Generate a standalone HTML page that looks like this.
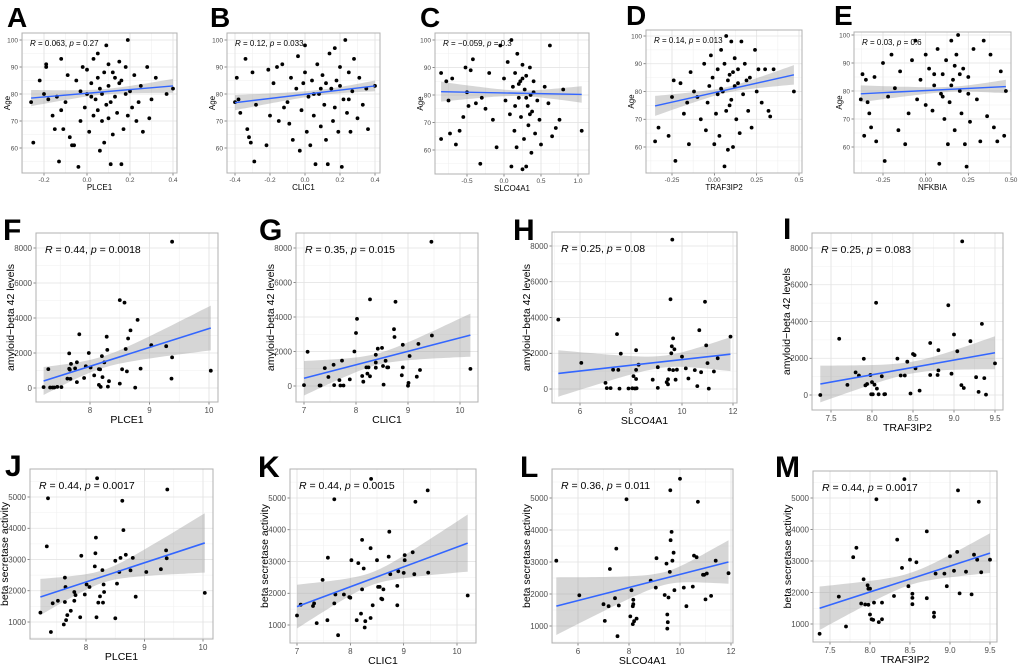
<!DOCTYPE html>
<html><head><meta charset="utf-8">
<style>
html,body{margin:0;padding:0;background:#fff;}
svg{display:block;font-family:"Liberation Sans",Arial,sans-serif;}
</style></head>
<body>
<svg id="fig" width="1020" height="665" viewBox="0 0 1020 665" xmlns="http://www.w3.org/2000/svg"></svg>
<script>
// ---------- DATA ----------
const aX=[-0.26,-0.25,-0.22,-0.2,-0.19,-0.19,-0.18,-0.16,-0.15,-0.14,-0.13,-0.12,-0.12,-0.11,-0.1,-0.09,-0.08,-0.07,-0.06,-0.05,-0.04,-0.03,-0.02,-0.01,0.0,0.0,0.01,0.02,0.03,0.03,0.04,0.05,0.05,0.06,0.06,0.07,0.08,0.08,0.09,0.09,0.1,0.1,0.11,0.12,0.12,0.13,0.14,0.15,0.15,0.16,0.17,0.18,0.19,0.19,0.2,0.21,0.22,0.23,0.25,0.26,0.28,0.29,0.3,0.32,0.37,0.4,0.07,0.11,0.02,0.16,-0.03,0.24,0.13,0.05,0.18,0.1];
const aY=[77,62,85,80,91,90,78,72,67,79,55,74,93,67,77,87,64,61,61,85,53,70,90,75,80,89,66,84,72,93,78,95,86,59,82,70,88,62,98,76,91,83,54,65,88,79,73,92,84,54,67,90,100,72,81,75,87,70,83,66,90,71,78,86,80,82,80,77,79,85,81,77,86,74,80,71];
const bX=[-0.4,-0.39,-0.38,-0.37,-0.34,-0.33,-0.32,-0.31,-0.3,-0.29,-0.28,-0.22,-0.21,-0.2,-0.18,-0.16,-0.15,-0.13,-0.12,-0.1,-0.09,-0.08,-0.07,-0.05,-0.04,-0.03,-0.02,0.0,0.0,0.01,0.02,0.03,0.04,0.05,0.06,0.07,0.08,0.09,0.1,0.11,0.12,0.13,0.14,0.15,0.16,0.17,0.18,0.19,0.2,0.21,0.22,0.23,0.24,0.25,0.26,0.27,0.28,0.3,0.31,0.33,0.35,0.36,0.4,0.12,0.2,0.05,0.17,0.25,-0.01,0.09];
const bY=[77,86,78,73,93,67,64,62,88,55,76,61,89,72,84,90,70,91,75,77,69,86,63,82,94,59,74,98,88,66,79,61,85,72,54,91,80,68,87,76,63,54,95,82,70,97,85,66,90,53,78,100,73,88,66,81,93,71,86,76,82,67,83,84,83,80,75,78,84,82];
const cX=[-0.85,-0.85,-0.78,-0.75,-0.73,-0.7,-0.65,-0.6,-0.55,-0.52,-0.5,-0.48,-0.45,-0.42,-0.38,-0.32,-0.3,-0.25,-0.2,-0.15,-0.1,-0.05,0.0,0.02,0.05,0.08,0.1,0.1,0.12,0.14,0.15,0.17,0.18,0.2,0.22,0.23,0.25,0.25,0.27,0.28,0.3,0.3,0.32,0.33,0.35,0.36,0.37,0.38,0.4,0.42,0.45,0.48,0.5,0.55,0.6,0.62,0.65,0.7,0.75,0.8,1.05,0.2,0.3,0.15,0.4,0.25,0.35];
const cY=[88,64,85,78,66,86,62,67,72,90,81,76,89,93,77,55,79,75,88,71,61,98,86,78,92,73,100,54,83,67,88,61,95,79,85,72,91,53,64,82,87,54,76,69,90,80,59,74,85,66,78,71,62,83,77,98,65,68,71,82,67,84,79,76,81,86,73];
const dX=[-0.35,-0.33,-0.27,-0.25,-0.24,-0.23,-0.2,-0.18,-0.16,-0.15,-0.14,-0.12,-0.1,-0.08,-0.06,-0.05,-0.04,-0.02,-0.01,0.0,0.01,0.02,0.03,0.04,0.05,0.06,0.06,0.07,0.07,0.08,0.09,0.1,0.1,0.11,0.12,0.12,0.13,0.14,0.15,0.16,0.17,0.18,0.2,0.21,0.22,0.24,0.25,0.26,0.28,0.3,0.32,0.33,0.35,0.47,0.08,0.04,0.14,0.02,0.11,-0.03,0.19,0.09];
const dY=[62,67,64,78,84,55,83,72,76,61,87,80,78,70,90,66,76,93,85,61,72,88,64,95,80,53,90,100,73,59,86,98,77,60,92,82,70,88,65,98,79,90,73,85,67,95,80,88,76,88,73,71,88,80,84,81,83,79,87,82,84,75];
const eX=[-0.38,-0.37,-0.36,-0.35,-0.34,-0.33,-0.32,-0.3,-0.29,-0.25,-0.24,-0.22,-0.2,-0.18,-0.16,-0.15,-0.12,-0.1,-0.08,-0.06,-0.05,-0.03,0.0,0.0,0.02,0.04,0.05,0.07,0.08,0.09,0.1,0.11,0.12,0.13,0.14,0.15,0.16,0.17,0.18,0.19,0.2,0.21,0.22,0.23,0.24,0.25,0.26,0.28,0.3,0.32,0.34,0.36,0.38,0.4,0.42,0.44,0.46,0.47,0.15,0.2,0.1,0.25,0.17,0.05];
const eY=[77,86,64,84,76,72,67,85,62,90,55,78,93,81,66,87,61,72,91,98,77,84,93,75,88,73,82,95,54,79,86,70,91,61,76,98,84,66,93,100,80,72,88,61,53,85,69,95,77,62,98,71,93,67,62,87,64,80,82,86,78,79,89,86];
const fX=[7.22,7.3,7.33,7.37,7.4,7.45,7.52,7.62,7.65,7.65,7.66,7.67,7.68,7.75,7.78,7.78,7.82,7.9,7.93,7.98,8.01,8.07,8.15,8.15,8.17,8.18,8.2,8.21,8.24,8.28,8.29,8.3,8.32,8.5,8.5,8.54,8.58,8.6,8.62,8.64,8.68,8.76,8.8,8.85,9.03,9.28,9.37,9.38,9.38,10.03];
const fY=[50,1080,30,30,30,60,50,540,1980,1100,1050,520,1380,1120,1470,340,3070,570,1240,2000,1170,720,180,1080,1060,60,1820,620,1460,2930,2180,80,390,250,5020,1070,4880,2230,950,2830,3290,20,3890,1110,2450,2390,540,1750,8360,990];
const gX=[7.0,7.07,7.3,7.32,7.4,7.47,7.57,7.58,7.68,7.7,7.73,7.76,7.88,7.97,8.0,8.02,8.12,8.14,8.2,8.22,8.24,8.27,8.27,8.38,8.38,8.38,8.42,8.5,8.52,8.53,8.57,8.6,8.62,8.73,8.74,8.76,8.88,8.9,8.9,9.0,9.01,9.03,9.17,9.2,9.23,9.45,9.46,10.2];
const gY=[50,1980,30,30,1040,520,1230,50,340,30,1470,30,380,2000,3070,3890,580,250,1080,720,1080,5020,560,1810,1360,1060,2160,2210,1160,80,1460,1080,1080,3290,2840,4880,620,1080,2390,20,180,1740,540,2440,930,8360,2930,990];
const hX=[5.15,6.05,7.0,7.05,7.2,7.3,7.45,7.5,7.55,7.6,7.9,8.05,8.1,8.15,8.2,8.2,8.2,8.22,8.3,8.85,9.05,9.05,9.4,9.45,9.45,9.5,9.55,9.58,9.6,9.62,9.65,9.65,9.7,9.75,9.8,10.0,10.15,10.25,10.5,10.6,10.68,10.75,10.9,10.95,11.0,11.05,11.25,11.4,11.9];
const hY=[3880,1460,340,50,50,1080,3070,1070,20,1980,30,40,720,30,2170,1070,560,40,1360,520,60,1220,380,260,540,1090,5020,2000,2390,8360,2830,1060,2220,520,1080,1810,1150,590,1060,160,3290,940,4880,2440,1450,20,980,1720,2930];
const iX=[7.37,7.6,7.7,7.8,7.84,7.9,7.92,7.94,7.98,7.99,8.0,8.01,8.03,8.05,8.06,8.08,8.12,8.15,8.16,8.31,8.35,8.4,8.43,8.47,8.5,8.52,8.53,8.58,8.71,8.71,8.8,8.81,8.81,8.93,8.97,9.0,9.04,9.09,9.1,9.12,9.2,9.27,9.3,9.34,9.37,9.39,9.5];
const iY=[0,3060,550,1230,1060,1970,520,600,1090,40,700,40,560,5020,350,40,1020,40,50,1980,1060,1060,1810,80,2230,2170,1450,240,2830,1090,1090,1340,2440,4880,1160,3290,2380,540,8360,380,2930,970,170,3870,920,20,1720];
const jX=[7.22,7.33,7.35,7.4,7.43,7.52,7.62,7.64,7.64,7.65,7.66,7.68,7.74,7.8,7.8,7.82,7.9,7.92,7.98,8.01,8.06,8.15,8.16,8.17,8.18,8.19,8.21,8.24,8.28,8.29,8.3,8.31,8.5,8.5,8.53,8.57,8.59,8.62,8.64,8.68,8.76,8.8,8.85,9.03,9.28,9.37,9.38,9.39,10.03];
const jY=[1300,3420,4960,680,1600,1680,920,2420,1640,2120,1060,1220,1360,1960,1680,1860,1150,3120,1880,2200,2120,2780,3200,3700,1150,5600,1620,1820,2660,1620,2200,1960,2960,1120,2230,2600,3050,4880,3940,3150,2650,3050,1810,2600,2690,3290,3040,5240,1930];
const kX=[7.0,7.07,7.3,7.32,7.37,7.48,7.57,7.58,7.7,7.7,7.72,7.77,7.88,7.98,8.0,8.02,8.12,8.15,8.2,8.22,8.22,8.25,8.27,8.28,8.38,8.38,8.39,8.42,8.5,8.52,8.55,8.58,8.6,8.62,8.72,8.73,8.75,8.88,8.88,8.9,9.0,9.02,9.02,9.17,9.2,9.22,9.45,9.46,10.2];
const kY=[1300,1640,1600,1680,1060,2420,1150,3120,1680,4960,1960,680,1960,1880,1860,3040,1150,2950,1360,3680,2120,2780,920,1120,1220,3420,5600,1620,3040,2200,2200,1830,1810,2120,3150,3940,2600,1620,2230,2690,2640,3200,3040,3290,2600,4880,5240,2650,1930];
const lX=[5.15,6.05,7.0,7.05,7.2,7.25,7.45,7.5,7.55,7.6,7.9,8.05,8.1,8.15,8.15,8.17,8.17,8.2,8.3,8.85,9.05,9.08,9.4,9.47,9.5,9.5,9.52,9.55,9.6,9.62,9.63,9.67,9.7,9.75,9.78,10.0,10.15,10.25,10.5,10.55,10.65,10.7,10.9,10.95,11.05,11.0,11.22,11.4,11.9];
const lY=[3040,1960,1680,1160,1620,2780,1870,3420,680,1640,4960,1300,2120,1620,1060,1680,1820,1150,1230,2420,2200,3120,1970,2950,920,1360,1120,1890,2690,5240,3680,3940,3040,3290,2120,5600,2200,1620,2230,3200,3150,4880,2600,2600,2640,1830,1940,3040,2650];
const mX=[7.37,7.61,7.7,7.79,7.83,7.89,7.92,7.94,7.97,7.98,7.98,8.0,8.0,8.02,8.04,8.05,8.08,8.11,8.15,8.15,8.3,8.34,8.4,8.43,8.48,8.5,8.53,8.53,8.53,8.58,8.71,8.71,8.8,8.8,8.82,8.93,8.96,9.0,9.05,9.09,9.1,9.12,9.2,9.27,9.3,9.34,9.36,9.39,9.5];
const mY=[690,1870,920,3120,3420,1650,2420,1620,2230,1610,2120,2120,1300,1150,1130,1680,4960,1060,1680,1150,1890,3680,2780,5600,2200,3040,1630,1960,1830,2960,3940,1820,1360,1230,2600,2600,2200,3150,2690,3290,5240,1970,2660,1940,3200,3040,4880,2640,3040];
const aFit=[-0.26,0.4,78.5,83.0]; const aCI=[3.0,1.0,2.6,0.08];
const bFit=[-0.4,0.4,76.8,83.0]; const bCI=[2.8,1.0,2.0,0.1];
const cFit=[-0.85,1.05,81.2,80.2]; const cCI=[3.6,1.0,3.0,0.2];
const dFit=[-0.35,0.47,74.8,86.0]; const dCI=[3.6,1.0,3.5,0.07];
const eFit=[-0.38,0.47,79.0,81.6]; const eCI=[3.0,0.9,2.4,0.15];
const fFit=[7.22,10.03,400,3430]; const fCI=[800,330,1280,8.2];
const gFit=[7.0,10.2,450,2950]; const gCI=[1000,330,1250,8.4];
const hFit=[5.15,11.9,870,1950]; const hCI=[1300,330,950,9.3];
const iFit=[7.37,9.5,600,2300]; const iCI=[1000,320,900,8.5];
const jFit=[7.22,10.03,1800,3530]; const jCI=[580,200,950,8.3];
const kFit=[7.0,10.2,1580,3580]; const kCI=[690,200,900,8.4];
const lFit=[5.15,11.9,1620,3000]; const lCI=[900,200,680,9.4];
const mFit=[7.37,9.5,1500,3250]; const mCI=[690,190,630,8.5];
const ageTicks=[60,70,80,90,100];
const abTicks=[0,2000,4000,6000,8000];
const bsTicks=[1000,2000,3000,4000,5000];
const aXT=[-0.2,0.0,0.2,0.4]; const aXL=["-0.2","0.0","0.2","0.4"];
const bXT=[-0.4,-0.2,0.0,0.2,0.4]; const bXL=["-0.4","-0.2","0.0","0.2","0.4"];
const cXT=[-0.5,0.0,0.5,1.0]; const cXL=["-0.5","0.0","0.5","1.0"];
const deXT=[-0.25,0,0.25,0.5]; const dXL=["-0.25","0.00","0.25","0.5"]; const eXL=["-0.25","0.00","0.25","0.50"];
const clXT=[7,8,9,10]; const clXL=["7","8","9","10"];
const plXT=[8,9,10]; const plXL=["8","9","10"];
const slXT=[6,8,10,12]; const slXL=["6","8","10","12"];
const trXT=[7.5,8.0,8.5,9.0,9.5]; const trXL=["7.5","8.0","8.5","9.0","9.5"];

const panels=[
 {id:"a",L:"A",lx:7,ly:27,ls:28,box:[22,33,177,173],xm:[0,87,0.2,130],ym:[100,40,60,148],xd:aX,yd:aY,fit:aFit,ci:aCI,xt:aXT,xl:aXL,yt:ageTicks,xlab:"PLCE1",ylab:"Age",r:["0.063","0.27"],sz:"s"},
 {id:"b",L:"B",lx:210,ly:27,ls:28,box:[227,33,380,173],xm:[0,305,0.4,375],ym:[100,40,60,148],xd:bX,yd:bY,fit:bFit,ci:bCI,xt:bXT,xl:bXL,yt:ageTicks,xlab:"CLIC1",ylab:"Age",r:["0.12","0.033"],sz:"s"},
 {id:"c",L:"C",lx:420,ly:27,ls:28,box:[435,33,589,174],xm:[-0.5,467,1.0,578],ym:[100,40,60,150],xd:cX,yd:cY,fit:cFit,ci:cCI,xt:cXT,xl:cXL,yt:ageTicks,xlab:"SLCO4A1",ylab:"Age",r:["\u22120.059","0.3"],sz:"s"},
 {id:"d",L:"D",lx:626,ly:25,ls:28,box:[646,30,802,173],xm:[-0.25,672,0.5,799],ym:[100,36,60,147],xd:dX,yd:dY,fit:dFit,ci:dCI,xt:deXT,xl:dXL,yt:ageTicks,xlab:"TRAF3IP2",ylab:"Age",r:["0.14","0.013"],sz:"s"},
 {id:"e",L:"E",lx:834,ly:25,ls:28,box:[854,32,1011,173],xm:[-0.25,883,0.5,1011],ym:[100,35,60,147],xd:eX,yd:eY,fit:eFit,ci:eCI,xt:deXT,xl:eXL,yt:ageTicks,xlab:"NFKBIA",ylab:"Age",r:["0.03","0.6"],sz:"s"},
 {id:"f",L:"F",lx:3,ly:240,ls:30,box:[36,233,218,402],xm:[8,90,10,209],ym:[8000,248,0,388],xd:fX,yd:fY,fit:fFit,ci:fCI,xt:plXT,xl:plXL,yt:abTicks,xlab:"PLCE1",ylab:"amyloid\u2212beta 42 levels",r:["0.44","0.0018"],sz:"m"},
 {id:"g",L:"G",lx:259,ly:240,ls:30,box:[296,233,478,402],xm:[7,304,10,460],ym:[8000,248,0,386],xd:gX,yd:gY,fit:gFit,ci:gCI,xt:clXT,xl:clXL,yt:abTicks,xlab:"CLIC1",ylab:"amyloid\u2212beta 42 levels",r:["0.35","0.015"],sz:"m"},
 {id:"h",L:"H",lx:513,ly:240,ls:30,box:[552,232,737,403],xm:[6,580,12,733],ym:[8000,246,0,389],xd:hX,yd:hY,fit:hFit,ci:hCI,xt:slXT,xl:slXL,yt:abTicks,xlab:"SLCO4A1",ylab:"amyloid\u2212beta 42 levels",r:["0.25","0.08"],sz:"m"},
 {id:"i",L:"I",lx:783,ly:239,ls:30,box:[812,233,1003,410],xm:[7.5,831,9.5,995],ym:[8000,248,0,395],xd:iX,yd:iY,fit:iFit,ci:iCI,xt:trXT,xl:trXL,yt:abTicks,xlab:"TRAF3IP2",ylab:"amyloid\u2212beta 42 levels",r:["0.25","0.083"],sz:"m"},
 {id:"j",L:"J",lx:5,ly:476,ls:30,box:[30,469,213,639],xm:[8,86,10,203],ym:[5000,497,1000,622],xd:jX,yd:jY,fit:jFit,ci:jCI,xt:plXT,xl:plXL,yt:bsTicks,xlab:"PLCE1",ylab:"beta secretase activity",r:["0.44","0.0017"],sz:"m"},
 {id:"k",L:"K",lx:258,ly:477,ls:30,box:[290,469,476,643],xm:[7,297,10,457],ym:[5000,498,1000,625],xd:kX,yd:kY,fit:kFit,ci:kCI,xt:clXT,xl:clXL,yt:bsTicks,xlab:"CLIC1",ylab:"beta secretase activity",r:["0.44","0.0015"],sz:"m"},
 {id:"l",L:"L",lx:520,ly:477,ls:30,box:[552,469,733,643],xm:[6,578,12,731],ym:[5000,498,1000,626],xd:lX,yd:lY,fit:lFit,ci:lCI,xt:slXT,xl:slXL,yt:bsTicks,xlab:"SLCO4A1",ylab:"beta secretase activity",r:["0.36","0.011"],sz:"m"},
 {id:"m",L:"M",lx:775,ly:477,ls:30,box:[813,471,997,642],xm:[7.5,830,9.5,990],ym:[5000,498,1000,624],xd:mX,yd:mY,fit:mFit,ci:mCI,xt:trXT,xl:trXL,yt:bsTicks,xlab:"TRAF3IP2",ylab:"beta secretase activity",r:["0.44","0.0017"],sz:"m"}
];
const NS="http://www.w3.org/2000/svg";
const svg=document.getElementById("fig");
function mk(tag,attrs,parent,txt){const e=document.createElementNS(NS,tag);for(const k in attrs)e.setAttribute(k,attrs[k]);if(txt!==undefined)e.textContent=txt;parent.appendChild(e);return e;}
function lin(m){return v=>m[1]+(v-m[0])*(m[3]-m[1])/(m[2]-m[0]);}

panels.forEach(p=>{
  const g=mk("g",{},svg);
  
  
  const sx=lin(p.xm), sy=lin(p.ym);
  const [x0,y0,x1,y1]=p.box;
  const small=p.sz==="s";
  const tf=small?6.5:8, af=small?8:10.5, rf=small?8:10.5;
  const lt=mk("text",{x:p.lx,y:p.ly,"font-size":p.ls,"font-weight":"bold",fill:"#000"},g,p.L);
  
  
  const bg=mk("rect",{x:x0,y:y0,width:x1-x0,height:y1-y0,fill:"#fff"},g);
  
  
  const xs=p.xt, ys=p.yt;
  const dx=xs[1]-xs[0], dy=ys[1]-ys[0];
  for(let v=xs[0]-dx/2; v<=xs[xs.length-1]+dx/2+1e-9; v+=dx/2){const X=sx(v);if(X>x0&&X<x1)mk("line",{x1:X,x2:X,y1:y0,y2:y1,stroke:"#f0f0f0","stroke-width":0.6},g);}
  for(let v=ys[0]-dy/2; v<=ys[ys.length-1]+dy/2+1e-9; v+=dy/2){const Y=sy(v);if(Y>y0&&Y<y1)mk("line",{x1:x0,x2:x1,y1:Y,y2:Y,stroke:"#f0f0f0","stroke-width":0.6},g);}
  xs.forEach((v,i)=>{const X=sx(v);
    mk("line",{x1:X,x2:X,y1:y0,y2:y1,stroke:"#e3e3e3","stroke-width":0.8},g);
    mk("line",{x1:X,x2:X,y1:y1,y2:y1+2.5,stroke:"#555","stroke-width":0.7},g);
    const t=mk("text",{x:X,y:y1+(small?9:11),"font-size":tf,fill:"#4d4d4d","text-anchor":"middle"},g,p.xl[i]);
    
    
  });
  ys.forEach(v=>{const Y=sy(v);
    mk("line",{x1:x0,x2:x1,y1:Y,y2:Y,stroke:"#e3e3e3","stroke-width":0.8},g);
    mk("line",{x1:x0-2.5,x2:x0,y1:Y,y2:Y,stroke:"#555","stroke-width":0.7},g);
    const t=mk("text",{x:x0-4,y:Y+tf*0.35,"font-size":tf,fill:"#4d4d4d","text-anchor":"end"},g,String(v));
    
    
  });
  const f=p.fit, c=p.ci;
  const fy=x=>f[2]+(x-f[0])*(f[3]-f[2])/(f[1]-f[0]);
  const hw=x=>{const xm=c[3];const end=x<xm?c[0]:c[2];const xe=x<xm?f[0]:f[1];const t=(x-xm)/(xe-xm);return Math.sqrt(c[1]*c[1]+(end*end-c[1]*c[1])*t*t);};
  let up=[],lo=[];
  for(let i=0;i<=40;i++){const x=f[0]+(f[1]-f[0])*i/40;up.push(sx(x).toFixed(1)+","+sy(fy(x)+hw(x)).toFixed(1));lo.push(sx(x).toFixed(1)+","+sy(fy(x)-hw(x)).toFixed(1));}
  const band=mk("polygon",{points:up.concat(lo.reverse()).join(" "),fill:"#999","fill-opacity":0.4},g);
  
  
  p.xd.forEach((xv,i)=>{
    const d=mk("circle",{cx:sx(xv).toFixed(1),cy:sy(p.yd[i]).toFixed(1),r:small?1.9:1.9,fill:"#000"},g);
    
    
  });
  const ln=mk("line",{x1:sx(f[0]),y1:sy(f[2]),x2:sx(f[1]),y2:sy(f[3]),stroke:"#3366ff","stroke-width":small?1.4:1.6},g);
  
  
  mk("rect",{x:x0,y:y0,width:x1-x0,height:y1-y0,fill:"none",stroke:"#b0b0b0","stroke-width":1},g);
  const st=mk("text",{x:x0+(small?8:9),y:y0+(small?13:20),"font-size":rf,fill:"#000"},g);
  
  
  mk("tspan",{"font-style":"italic"},st,"R");
  mk("tspan",{},st," = "+p.r[0]+", ");
  mk("tspan",{"font-style":"italic"},st,"p");
  mk("tspan",{},st," = "+p.r[1]);
  const xt=mk("text",{x:(x0+x1)/2,y:y1+(small?17:21),"font-size":af,fill:"#000","text-anchor":"middle"},g,p.xlab);
  
  
  const yx=x0-(small?12:22), yy=(y0+y1)/2;
  const yt=mk("text",{x:yx,y:yy,"font-size":af,fill:"#000","text-anchor":"middle",transform:`rotate(-90 ${yx} ${yy})`},g,p.ylab);
  
  
});
</script>
</body></html>
